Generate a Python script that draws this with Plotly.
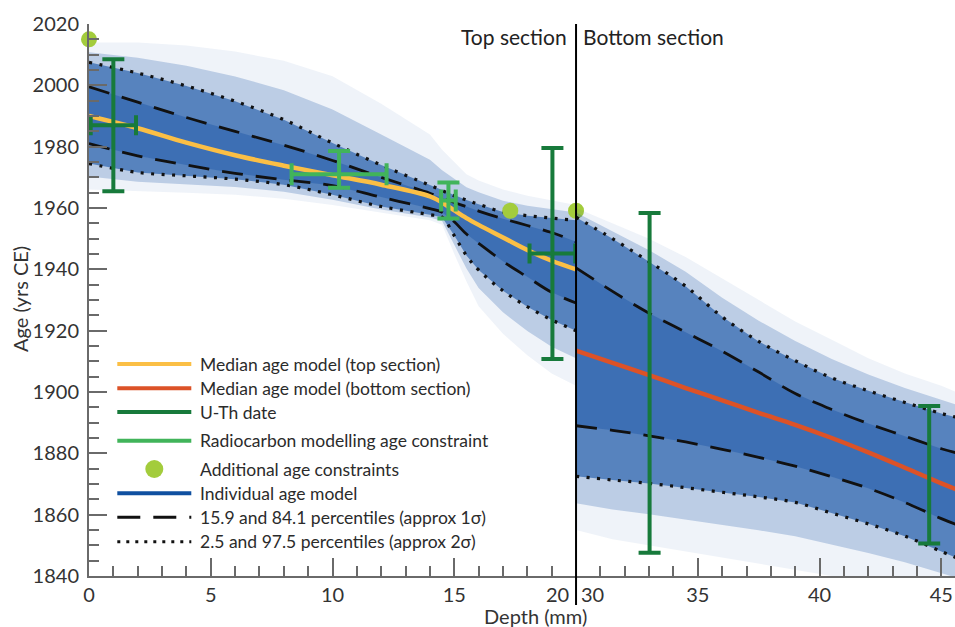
import numpy as np
import plotly.graph_objects as go

# ---------------- data ----------------
# Top section (depth 0-20 mm)
top_depth = [0, 2, 4, 6, 8, 10, 12, 14, 14.5, 15, 15.5, 16, 17, 18, 19, 20]
top_median = [1990, 1986, 1981.3, 1977.2, 1973.8, 1970.7, 1967.6, 1963.8, 1961.8, 1959.2, 1956.7, 1954.5, 1950.4, 1946.3, 1942.8, 1940]
top_p841 = [1999.5, 1994.5, 1989.5, 1985, 1980.5, 1975.5, 1970, 1964.8, 1963.3, 1961.8, 1960.4, 1959, 1956.5, 1954.3, 1952, 1949]
top_p159 = [1981, 1977, 1974, 1971.3, 1969.2, 1967.3, 1963.5, 1959.8, 1958.6, 1955.5, 1951.5, 1948.5, 1942.6, 1937.5, 1932.5, 1929]
top_p975 = [2007.5, 2004, 1999.8, 1994.8, 1988.8, 1981.2, 1974, 1967.4, 1965.7, 1964, 1962.6, 1961.2, 1958.7, 1957.5, 1956.7, 1956]
top_p025 = [1974.5, 1971.6, 1970.5, 1969.4, 1967.6, 1964.3, 1960.5, 1957.8, 1957, 1951, 1944.5, 1939.8, 1933, 1927.8, 1923.5, 1920]
top_max = [2014, 2014, 2013, 2011, 2008, 2003, 1994, 1984, 1979, 1975, 1971, 1969, 1966, 1964, 1962.5, 1961]
top_min = [1966, 1965.5, 1965, 1964.3, 1963, 1961, 1958.5, 1956, 1954.5, 1945, 1936, 1928, 1919, 1912, 1906, 1902]

# Bottom section (depth 30-45 mm)
bot_depth = [30, 31.5, 33, 34.5, 36, 37.5, 39, 40.5, 42, 43.5, 45, 45.6]
bot_median = [1913.5, 1909.5, 1905.5, 1901.3, 1897.3, 1893.2, 1889.3, 1885, 1880.3, 1875.3, 1870.2, 1868.3]
bot_p841 = [1940.5, 1932.8, 1925.7, 1919.5, 1913.3, 1906.5, 1899.5, 1894.3, 1889.7, 1885.6, 1881.5, 1880.2]
bot_p159 = [1889, 1887.5, 1885.7, 1883.7, 1881.3, 1878.7, 1875.8, 1872.4, 1868.6, 1864, 1858.7, 1856.8]
bot_p975 = [1957, 1950, 1942.5, 1934.5, 1924.5, 1916.5, 1910.2, 1904.6, 1900.4, 1896.6, 1893, 1891.8]
bot_p025 = [1872.5, 1871.3, 1870.2, 1868.8, 1867.3, 1865.8, 1864, 1860.5, 1857, 1853, 1848, 1846]
bot_max = [1960, 1955, 1950, 1944, 1937, 1930, 1923, 1917, 1911, 1906, 1902, 1900]
bot_min = [1855, 1852, 1850, 1848, 1846, 1844, 1842, 1840, 1838, 1836, 1834, 1833]

# U-Th dates
uth_top_depth = [1.0, 19.03]
uth_top_age = [1987.0, 1945.2]
uth_top_age_err = [21.5, 34.4]
uth_top_depth_err = [0.93, 0.94]
uth_bot_depth = [33.02, 44.5]
uth_bot_age = [1903.0, 1873.0]
uth_bot_age_err = [55.4, 22.4]

# Radiocarbon modelling age constraints
rc_depth = [10.27, 14.76]
rc_age = [1971.0, 1962.45]
rc_age_plus = [7.6, 5.85]
rc_age_minus = [4.4, 5.85]
rc_depth_err = [1.95, 0.3]

# Additional age constraints
add_depth = [0.0, 17.3, 20.0]
add_age = [2015.0, 1959.1, 1959.1]

# axis ticks
x_top_ticks = [0, 5, 10, 15, 20]
x_top_text = ["0", "5", "10", "15", ""]
x_bot_ticks = [30, 35, 40, 45]
x_bot_text = ["", "35", "40", "45"]

# ---------------- styling ----------------
YELLOW = "#fbbf45"
RED = "#dc5227"
DKGREEN = "#177a3b"
LTGREEN = "#41b45a"
DOT = "#a3cc3c"
LEGBLUE = "#1050a0"
BLUE = "35,92,170"
AXC = "#6a6a6a"
TXT = "#333333"
FONT = "Lato"

SPLIT = 0.5624
L, T, PW, PH = 89, 24, 866, 552


def px(x):
    return (x - L) / PW


def py(y):
    return (T + PH - y) / PH


fig = go.Figure()


def band(depth, upper, lower, xa, alpha):
    fig.add_trace(go.Scatter(
        x=list(depth) + list(depth)[::-1],
        y=list(upper) + list(lower)[::-1],
        xaxis=xa, yaxis="y", mode="lines", fill="toself",
        line=dict(width=0), fillcolor=f"rgba({BLUE},{alpha})",
        hoverinfo="skip", showlegend=False))


for depth, mx, p975, p841, p159, p025, mn, xa in [
        (top_depth, top_max, top_p975, top_p841, top_p159, top_p025, top_min, "x"),
        (bot_depth, bot_max, bot_p975, bot_p841, bot_p159, bot_p025, bot_min, "x2")]:
    mid_up = (np.array(mx) + np.array(p975)) / 2
    mid_lo = (np.array(mn) + np.array(p025)) / 2
    band(depth, mx, mn, xa, 0.07)
    band(depth, mid_up, mid_lo, xa, 0.25)
    band(depth, p975, p025, xa, 0.66)
    band(depth, p841, p159, xa, 0.5)

# percentile lines
for depth, series, xa in [(top_depth, top_p841, "x"), (top_depth, top_p159, "x"),
                          (bot_depth, bot_p841, "x2"), (bot_depth, bot_p159, "x2")]:
    fig.add_trace(go.Scatter(x=depth, y=series, xaxis=xa, yaxis="y", mode="lines",
                             line=dict(color="#111111", width=2.8, dash="21px,13px"),
                             line_shape="spline", hoverinfo="skip", showlegend=False))
for depth, series, xa in [(top_depth, top_p975, "x"), (top_depth, top_p025, "x"),
                          (bot_depth, bot_p975, "x2"), (bot_depth, bot_p025, "x2")]:
    fig.add_trace(go.Scatter(x=depth, y=series, xaxis=xa, yaxis="y", mode="lines",
                             line=dict(color="#111111", width=3.2, dash="3px,7.5px"),
                             line_shape="spline", hoverinfo="skip", showlegend=False))

# medians
fig.add_trace(go.Scatter(x=top_depth, y=top_median, xaxis="x", yaxis="y", mode="lines",
                         line=dict(color=YELLOW, width=4.5), line_shape="spline",
                         name="Median age model (top section)", showlegend=False))
fig.add_trace(go.Scatter(x=bot_depth, y=bot_median, xaxis="x2", yaxis="y", mode="lines",
                         line=dict(color=RED, width=4.5), line_shape="spline",
                         name="Median age model (bottom section)", showlegend=False))

# radiocarbon constraints
fig.add_trace(go.Scatter(
    x=rc_depth, y=rc_age, xaxis="x", yaxis="y", mode="markers",
    marker=dict(size=1, color="rgba(0,0,0,0)"),
    error_y=dict(type="data", array=rc_age_plus, arrayminus=rc_age_minus, symmetric=False,
                 color=LTGREEN, thickness=4, width=11),
    error_x=dict(type="data", array=rc_depth_err, color=LTGREEN, thickness=4, width=11),
    cliponaxis=False, name="Radiocarbon modelling age constraint", showlegend=False))

# U-Th dates
fig.add_trace(go.Scatter(
    x=uth_top_depth, y=uth_top_age, xaxis="x", yaxis="y", mode="markers",
    marker=dict(size=1, color="rgba(0,0,0,0)"),
    error_y=dict(type="data", array=uth_top_age_err, color=DKGREEN, thickness=4, width=11),
    error_x=dict(type="data", array=uth_top_depth_err, color=DKGREEN, thickness=4, width=10),
    cliponaxis=False, name="U-Th date", showlegend=False))
fig.add_trace(go.Scatter(
    x=uth_bot_depth, y=uth_bot_age, xaxis="x2", yaxis="y", mode="markers",
    marker=dict(size=1, color="rgba(0,0,0,0)"),
    error_y=dict(type="data", array=uth_bot_age_err, color=DKGREEN, thickness=4, width=11),
    cliponaxis=False, name="U-Th date", showlegend=False))

# additional constraints
fig.add_trace(go.Scatter(x=add_depth, y=add_age, xaxis="x", yaxis="y", mode="markers",
                         marker=dict(size=16, color=DOT, line=dict(width=0)),
                         cliponaxis=False, name="Additional age constraints", showlegend=False))

axis_common = dict(
    ticks="inside", ticklen=18, tickwidth=2, tickcolor=AXC,
    showline=True, linecolor=AXC, linewidth=2,
    showgrid=False, zeroline=False,
    tickfont=dict(family=FONT, size=20, color=TXT),
)

fig.update_layout(
    width=955, height=627,
    margin=dict(l=L, r=955 - L - PW, t=T, b=627 - T - PH),
    plot_bgcolor="white", paper_bgcolor="white",
    showlegend=False,
    font=dict(family=FONT, color=TXT),
    xaxis=dict(domain=[0, SPLIT], range=[0, 20], tickmode="array",
               tickvals=x_top_ticks, ticktext=x_top_text, anchor="y",
               minor=dict(tick0=0, dtick=1, ticks="inside", ticklen=10, tickwidth=1.5,
                          tickcolor=AXC, showgrid=False),
               **axis_common),
    xaxis2=dict(domain=[SPLIT, 1], range=[30, 45.56], tickmode="array",
                tickvals=x_bot_ticks, ticktext=x_bot_text, anchor="y",
                minor=dict(tick0=30, dtick=1, ticks="inside", ticklen=10, tickwidth=1.5,
                           tickcolor=AXC, showgrid=False),
                **axis_common),
    yaxis=dict(range=[1840, 2020], tick0=1840, dtick=20, anchor="x",
               ticklabelstandoff=4,
               minor=dict(dtick=5, ticks="inside", ticklen=10, tickwidth=1.5,
                          tickcolor=AXC, showgrid=False),
               **axis_common),
)

shapes = []
annotations = []

# section divider
shapes.append(dict(type="line", xref="paper", yref="paper", x0=SPLIT, x1=SPLIT,
                   y0=py(605), y1=1, line=dict(color="black", width=2), layer="above"))
annotations.append(dict(text="Top section", xref="x", yref="paper", x=20, y=py(36.7),
                        xanchor="right", yanchor="middle", xshift=-7, showarrow=False,
                        font=dict(family=FONT, size=21, color="#222")))
annotations.append(dict(text="Bottom section", xref="x2", yref="paper", x=30, y=py(36.7),
                        xanchor="left", yanchor="middle", xshift=5, showarrow=False,
                        font=dict(family=FONT, size=21, color="#222")))

# split tick labels 20 | 30
annotations.append(dict(text="20", xref="x", yref="paper", x=20, y=py(594),
                        xanchor="right", yanchor="middle", xshift=-5, showarrow=False,
                        font=dict(family=FONT, size=20, color=TXT)))
annotations.append(dict(text="30", xref="x2", yref="paper", x=30, y=py(594),
                        xanchor="left", yanchor="middle", xshift=3, showarrow=False,
                        font=dict(family=FONT, size=20, color=TXT)))

# axis titles
annotations.append(dict(text="Depth (mm)", xref="paper", yref="paper", x=px(535), y=py(616),
                        xanchor="center", yanchor="middle", showarrow=False,
                        font=dict(family=FONT, size=20, color=TXT)))
annotations.append(dict(text="Age (yrs CE)", xref="paper", yref="paper", x=px(20), y=py(299),
                        xanchor="center", yanchor="middle", textangle=-90, showarrow=False,
                        font=dict(family=FONT, size=20, color=TXT)))

# manual legend
legend_rows = [
    ("Median age model (top section)", 364, dict(color=YELLOW, width=4)),
    ("Median age model (bottom section)", 388.3, dict(color=RED, width=4)),
    ("U-Th date", 412, dict(color=DKGREEN, width=4)),
    ("Radiocarbon modelling age constraint", 440.7, dict(color=LTGREEN, width=4)),
    ("Additional age constraints", 469, None),
    ("Individual age model", 493.3, dict(color=LEGBLUE, width=4)),
    ("15.9 and 84.1 percentiles (approx 1σ)", 517.3, dict(color="#111", width=3, dash="23px,13px")),
    ("2.5 and 97.5 percentiles (approx 2σ)", 541.7, dict(color="#111", width=3, dash="3px,6px")),
]
for label, ypx, style in legend_rows:
    if style is None:
        shapes.append(dict(type="circle", xref="paper", yref="paper",
                           x0=px(154.3 - 9), x1=px(154.3 + 9), y0=py(ypx + 9), y1=py(ypx - 9),
                           fillcolor=DOT, line=dict(width=0), layer="above"))
    else:
        shapes.append(dict(type="line", xref="paper", yref="paper",
                           x0=px(117.3), x1=px(191.3), y0=py(ypx), y1=py(ypx),
                           line=style, layer="above"))
    annotations.append(dict(text=label, xref="paper", yref="paper", x=px(200), y=py(ypx),
                            xanchor="left", yanchor="middle", showarrow=False, xshift=-2,
                            font=dict(family=FONT, size=17.5, color="#2b2b2b")))

fig.update_layout(shapes=shapes, annotations=annotations)

fig.write_html("out.html",
               config={"displayModeBar": False},
               post_script="document.body.style.margin='0px';document.body.style.overflow='hidden';")
